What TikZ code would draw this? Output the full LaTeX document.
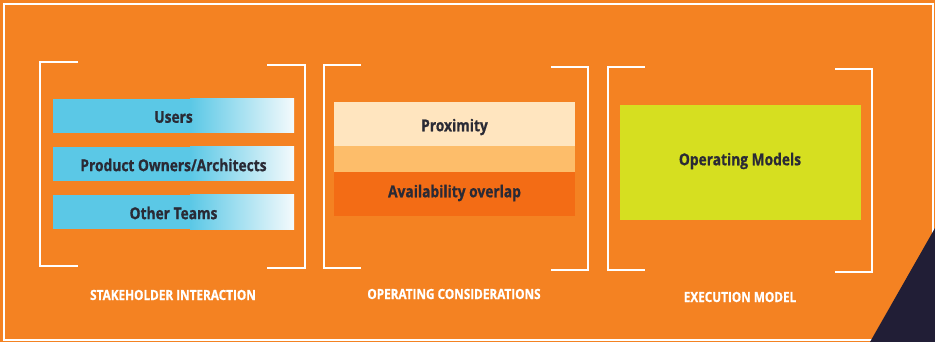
\documentclass[tikz,border=0pt]{standalone}
\usepackage{fontspec}
\setmainfont{Open Sans}[FakeStretch=0.84, BoldFeatures={FakeBold=0.8}]
\definecolor{bgorange}{RGB}{244,130,34}
\definecolor{cyanbar}{RGB}{91,200,230}
\definecolor{palebar}{RGB}{244,250,252}
\definecolor{prox}{RGB}{255,229,191}
\definecolor{band}{RGB}{253,189,106}
\definecolor{avail}{RGB}{243,108,21}
\definecolor{lime}{RGB}{214,223,32}
\definecolor{darktri}{RGB}{33,30,54}
\definecolor{txt}{RGB}{42,42,53}
\tikzset{
  brk/.style={draw=white, line width=1.6pt},
  bartext/.style={font=\bfseries\fontsize{16.4}{18}\selectfont, text=txt},
  caption/.style={font=\bfseries\fontsize{14}{16}\selectfont, text=white},
}
\begin{document}
\begin{tikzpicture}[x=1pt,y=-1pt]
\useasboundingbox (0,0) rectangle (935,342);
\fill[bgorange] (0,0) rectangle (935,342);
\draw[white, line width=1.6pt] (4,4) rectangle (933,340);
\fill[darktri] (935,228) -- (935,342) -- (870,342) -- cycle;
% group 1
\draw[brk] (78,62) -- (40,62) -- (40,266) -- (78,266);
\draw[brk] (267,65) -- (305,65) -- (305,268) -- (267,268);
\fill[cyanbar] (53,99) rectangle (190.5,133);
\shade[left color=cyanbar, right color=palebar] (190,99) rectangle (294,133);
\fill[cyanbar] (53,147) rectangle (190.5,181);
\shade[left color=cyanbar, right color=palebar] (190,147) rectangle (294,181);
\fill[cyanbar] (53,195) rectangle (190.5,229);
\shade[left color=cyanbar, right color=palebar] (190,195) rectangle (294,229);
\node[bartext] (users) at (173.5,117) {Users};
\node[bartext] (po) at (173.5,165) {Product Owners/Architects};
\node[bartext] (ot) at (173.5,213) {Other Teams};
\node[caption] (cap1) at (173,295) {STAKEHOLDER INTERACTION};
% group 2
\draw[brk] (361,65) -- (324,65) -- (324,268) -- (361,268);
\draw[brk] (551,67) -- (588,67) -- (588,270) -- (551,270);
\fill[prox] (334,102) rectangle (575,146);
\fill[band] (334,146) rectangle (575,172);
\fill[avail] (334,172) rectangle (575,216);
\node[bartext] (prx) at (454.5,127) {Proximity};
\node[bartext] (av) at (454.5,193) {Availability overlap};
\node[caption] (cap2) at (454,294) {OPERATING CONSIDERATIONS};
% group 3
\draw[brk] (645,67) -- (608,67) -- (608,270) -- (645,270);
\draw[brk] (835,69) -- (872,69) -- (872,272) -- (835,272);
\fill[lime] (620,105) rectangle (861,220);
\node[bartext] (om) at (740,161) {Operating Models};
\node[caption] (cap3) at (740,297) {EXECUTION MODEL};
\end{tikzpicture}
\end{document}
